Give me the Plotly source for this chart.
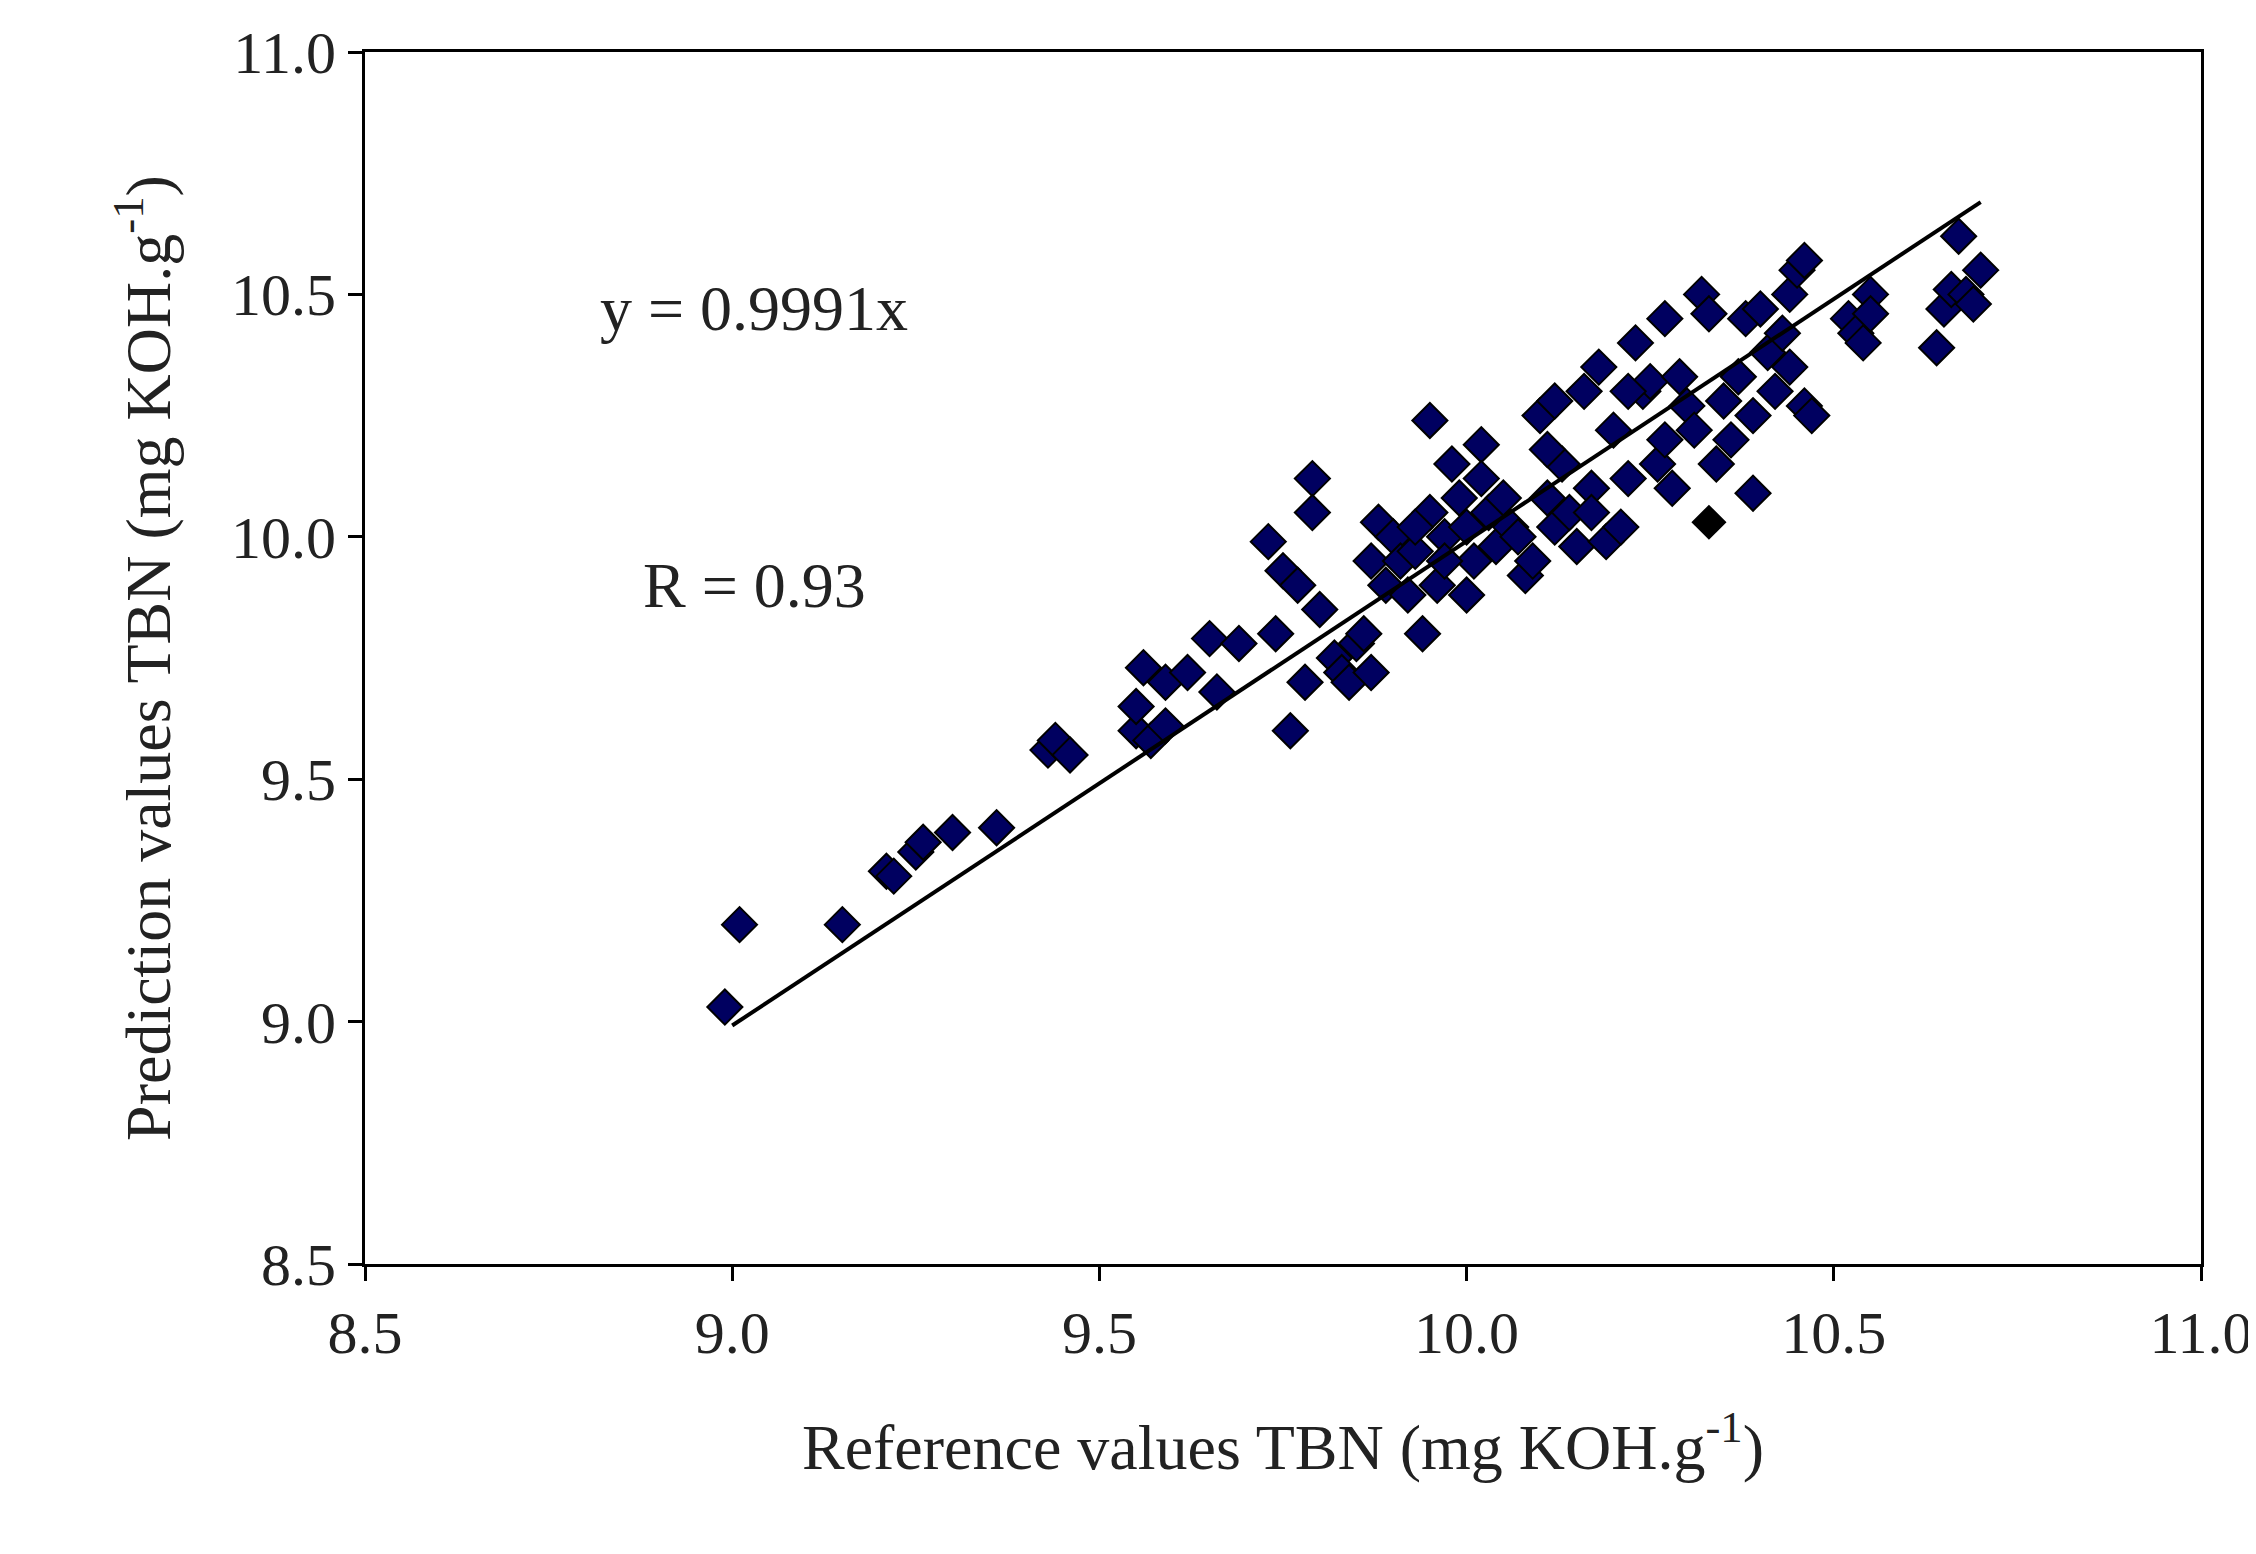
import plotly.graph_objects as go

ref = [8.99,9.01,9.15,9.21,9.22,9.25,9.26,9.30,9.36,9.43,9.44,9.46,9.55,9.55,9.56,9.57,9.59,9.59,9.62,9.65,9.66,9.69,9.73,9.74,9.75,9.76,9.77,9.78,9.79,9.79,9.80,9.82,9.83,9.84,9.85,9.86,9.87,9.87,9.88,9.89,9.90,9.91,9.92,9.93,9.94,9.95,9.95,9.96,9.97,9.98,9.99,10.00,10.00,10.01,10.02,10.03,10.04,10.05,10.06,10.08,10.09,10.10,10.11,10.12,10.12,10.13,10.14,10.15,10.16,10.17,10.18,10.19,10.20,10.21,10.22,10.23,10.24,10.25,10.26,10.27,10.27,10.28,10.29,10.30,10.31,10.32,10.33,10.34,10.35,10.36,10.37,10.38,10.39,10.39,10.40,10.41,10.42,10.43,10.44,10.44,10.45,10.46,10.46,10.47,10.52,10.53,10.54,10.55,10.55,10.64,10.65,10.66,10.67,10.68,10.70,10.69,9.97,10.02,10.07,10.11,9.93,10.17,10.22]
pred = [9.03,9.20,9.20,9.31,9.30,9.35,9.37,9.39,9.40,9.56,9.58,9.55,9.60,9.65,9.73,9.58,9.70,9.61,9.72,9.79,9.68,9.78,9.99,9.80,9.93,9.60,9.90,9.70,10.12,10.05,9.85,9.75,9.72,9.70,9.78,9.80,9.95,9.72,10.03,9.90,10.00,9.95,9.88,9.97,9.80,10.05,10.24,9.90,10.00,10.15,10.08,9.88,10.02,9.95,10.19,10.05,9.98,10.08,10.02,9.92,9.95,10.25,10.08,10.28,10.02,10.15,10.05,9.98,10.30,10.10,10.35,9.99,10.22,10.02,10.12,10.40,10.30,10.32,10.15,10.20,10.45,10.10,10.33,10.27,10.22,10.50,10.46,10.15,10.28,10.20,10.33,10.45,10.25,10.09,10.47,10.38,10.30,10.42,10.35,10.50,10.55,10.57,10.27,10.25,10.45,10.42,10.40,10.50,10.46,10.39,10.47,10.51,10.62,10.50,10.55,10.48,9.95,10.12,10.0,10.18,10.02,10.05,10.30]
outlier_x = [10.33]
outlier_y = [10.03]
fit_x = [9.0, 10.7]
slope = 0.9991

font = "Liberation Serif"
fig = go.Figure()
fig.add_trace(go.Scatter(x=ref, y=pred, mode="markers",
    marker=dict(symbol="diamond", size=27, color="#000060", line=dict(color="#000000", width=2))))
fig.add_trace(go.Scatter(x=outlier_x, y=outlier_y, mode="markers",
    marker=dict(symbol="diamond", size=27, color="#000000")))
fig.add_trace(go.Scatter(x=fit_x, y=[slope*v for v in fit_x], mode="lines",
    line=dict(color="black", width=4)))
ax = dict(range=[8.5, 11.0], tickvals=[8.5,9.0,9.5,10.0,10.5,11.0], ticktext=["8.5","9.0","9.5","10.0","10.5","11.0"],
          showgrid=False, zeroline=False, showline=True, linecolor="black", linewidth=3, mirror=True,
          ticks="outside", ticklen=14, tickwidth=3, tickcolor="black", tickfont=dict(size=60, family=font, color="#222"))
fig.update_layout(width=2256, height=1554, showlegend=False, plot_bgcolor="white", paper_bgcolor="white",
    margin=dict(l=357, r=60, t=39, b=298),
    xaxis=dict(ax, title=dict(text="Reference values TBN (mg KOH.g<sup>-1</sup>)", font=dict(size=64, family=font, color="#222"), standoff=60)),
    yaxis=dict(ax, title=dict(text="Prediction values TBN (mg KOH.g<sup>-1</sup>)", font=dict(size=64, family=font, color="#222"), standoff=40)),
    annotations=[dict(x=9.03, y=10.47, text="y = 0.9991x", showarrow=False, xanchor="center", font=dict(size=64, family=font, color="#222")),
                 dict(x=9.03, y=9.9, text="R = 0.93", showarrow=False, xanchor="center", font=dict(size=64, family=font, color="#222"))])
fig.write_html("out.html")
